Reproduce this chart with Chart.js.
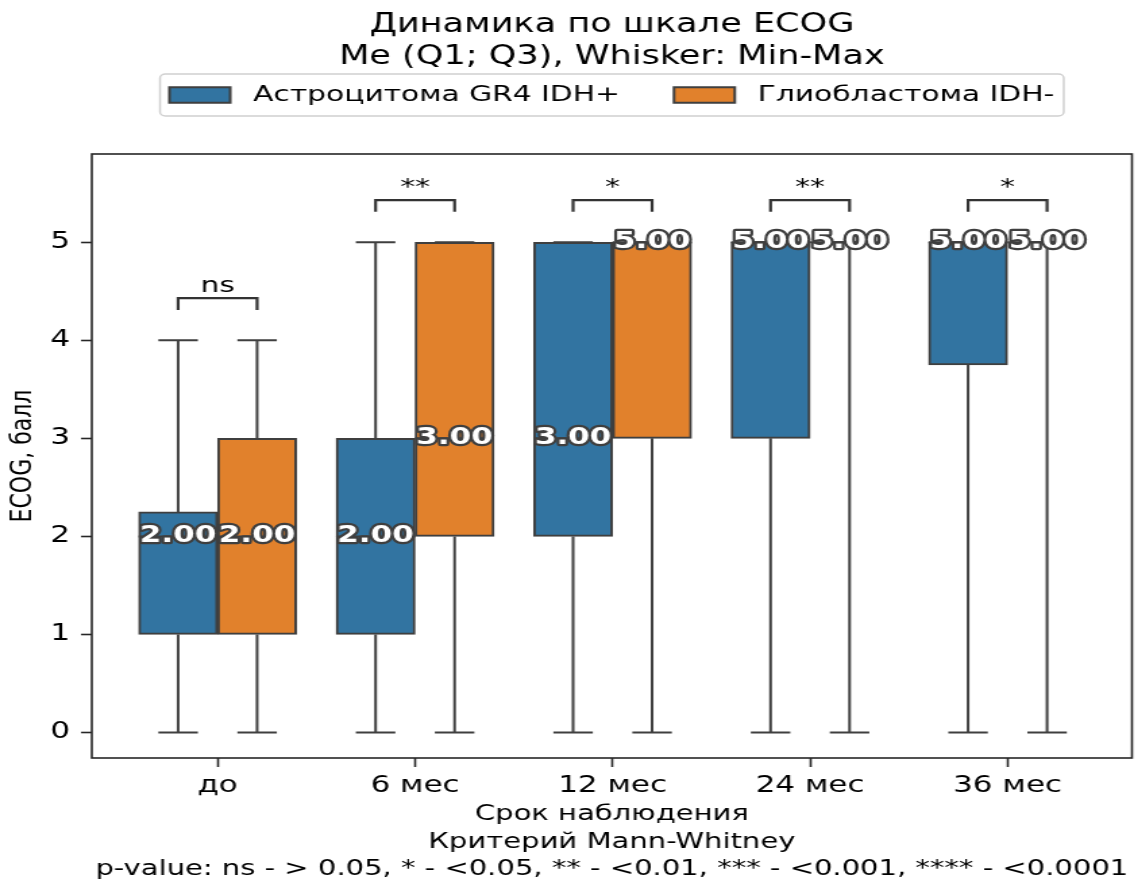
<!DOCTYPE html>
<html lang="ru">
<head>
<meta charset="utf-8">
<title>Динамика по шкале ECOG</title>
<script src="https://cdn.jsdelivr.net/npm/chart.js@4.4.1/dist/chart.umd.min.js"></script>
<style>
  html, body { margin: 0; padding: 0; background: #fff; overflow: hidden; }
  /* figure is drawn narrow and widened as a whole */
  #wrap { width: 843px; height: 880px; transform: scaleX(1.35); transform-origin: 0 0; }
</style>
</head>
<body>
<div id="wrap"><canvas id="ecogChart"></canvas></div>
<script>
const categories = ["до", "6 мес", "12 мес", "24 мес", "36 мес"];
const yTicks = [0, 1, 2, 3, 4, 5];

// Астроцитома GR4 IDH+
const astroMin = [0, 0, 0, 0, 0];
const astroQ1 = [1, 1, 2, 3, 3.75];
const astroMed = [2, 2, 3, 5, 5];
const astroQ3 = [2.25, 3, 5, 5, 5];
const astroMax = [4, 5, 5, 5, 5];

// Глиобластома IDH-
const glioMin = [0, 0, 0, 0, 0];
const glioQ1 = [1, 2, 3, 5, 5];
const glioMed = [2, 3, 5, 5, 5];
const glioQ3 = [3, 5, 5, 5, 5];
const glioMax = [4, 5, 5, 5, 5];

// Mann-Whitney result per time point
const sigLabels = ["ns", "**", "*", "**", "*"];

const FONT = '"DejaVu Sans", sans-serif';
const EDGE = "#3f3f3f";
const BOX_W = 0.4;

const series = [
	{ label: "Астроцитома GR4 IDH+", color: "#3274a1", shift: -0.2,
	  min: astroMin, q1: astroQ1, med: astroMed, q3: astroQ3, max: astroMax },
	{ label: "Глиобластома IDH-", color: "#e1812c", shift: 0.2,
	  min: glioMin, q1: glioQ1, med: glioMed, q3: glioQ3, max: glioMax },
];

const boxExtras = {
	id: "boxExtras",
	beforeDatasetsDraw(chart) {
		// whiskers go under the boxes
		const { ctx, scales: { x, y } } = chart;
		ctx.save();
		ctx.strokeStyle = EDGE;
		ctx.lineWidth = 2;
		series.forEach((s) => {
			categories.forEach((c, i) => {
				const pos = i + s.shift;
				const px = x.getPixelForValue(pos);
				const cl = x.getPixelForValue(pos - BOX_W / 4);
				const cr = x.getPixelForValue(pos + BOX_W / 4);
				const pMin = y.getPixelForValue(s.min[i]);
				const pMax = y.getPixelForValue(s.max[i]);
				ctx.beginPath();
				ctx.moveTo(px, pMin); ctx.lineTo(px, y.getPixelForValue(s.q1[i]));
				ctx.moveTo(px, y.getPixelForValue(s.q3[i])); ctx.lineTo(px, pMax);
				ctx.moveTo(cl, pMin); ctx.lineTo(cr, pMin);
				ctx.moveTo(cl, pMax); ctx.lineTo(cr, pMax);
				ctx.stroke();
			});
		});
		ctx.restore();
	},
	afterDatasetsDraw(chart) {
		const { ctx, chartArea: a, scales: { x, y } } = chart;
		ctx.save();

		// medians with value labels
		series.forEach((s) => {
			categories.forEach((c, i) => {
				const pos = i + s.shift;
				const py = y.getPixelForValue(s.med[i]);
				ctx.strokeStyle = EDGE;
				ctx.lineWidth = 2;
				ctx.beginPath();
				ctx.moveTo(x.getPixelForValue(pos - BOX_W / 2), py);
				ctx.lineTo(x.getPixelForValue(pos + BOX_W / 2), py);
				ctx.stroke();
			});
		});
		ctx.font = "bold 23px " + FONT;
		ctx.textAlign = "center";
		ctx.textBaseline = "middle";
		ctx.lineJoin = "round";
		series.forEach((s) => {
			categories.forEach((c, i) => {
				const px = x.getPixelForValue(i + s.shift);
				const py = y.getPixelForValue(s.med[i]);
				const txt = s.med[i].toFixed(2);
				ctx.strokeStyle = EDGE;
				ctx.lineWidth = 4.5;
				ctx.strokeText(txt, px, py);
				ctx.fillStyle = "#fff";
				ctx.fillText(txt, px, py);
			});
		});

		// significance brackets
		ctx.strokeStyle = "#333";
		ctx.lineWidth = 2.2;
		ctx.lineJoin = "miter";
		ctx.fillStyle = "#000";
		ctx.font = "22px " + FONT;
		ctx.textBaseline = "alphabetic";
		categories.forEach((c, i) => {
			const top = Math.max(astroMax[i], glioMax[i]);
			const x1 = x.getPixelForValue(i + series[0].shift);
			const x2 = x.getPixelForValue(i + series[1].shift);
			const yLine = y.getPixelForValue(top + 0.43);
			const yLeg = y.getPixelForValue(top + 0.31);
			ctx.beginPath();
			ctx.moveTo(x1, yLeg); ctx.lineTo(x1, yLine);
			ctx.lineTo(x2, yLine); ctx.lineTo(x2, yLeg);
			ctx.stroke();
			ctx.fillText(sigLabels[i], (x1 + x2) / 2, yLine - 6);
		});

		// axes frame
		ctx.strokeStyle = "#262626";
		ctx.lineWidth = 1.6;
		ctx.strokeRect(a.left, a.top, a.right - a.left, a.bottom - a.top);
		ctx.restore();
	},
	afterDraw(chart) {
		const { ctx, chartArea: a } = chart;
		const cx = (a.left + a.right) / 2;
		ctx.save();

		// title
		ctx.fillStyle = "#000";
		ctx.textAlign = "center";
		ctx.textBaseline = "middle";
		ctx.font = "26px " + FONT;
		ctx.fillText("Динамика по шкале ECOG", cx, 25.5);
		ctx.fillText("Me (Q1; Q3), Whisker: Min-Max", cx, 57);

		// legend
		ctx.font = "22px " + FONT;
		const sw = 45, sh = 15.5, gap = 17, itemGap = 40, pad = 7;
		const widths = series.map((s) => ctx.measureText(s.label).width);
		const total = pad * 2 + widths.reduce((t, w) => t + sw + gap + w, 0) + itemGap;
		const left = cx - total / 2;
		const fTop = 74, fH = 42, midY = fTop + fH / 2;
		ctx.beginPath();
		ctx.roundRect(left, fTop, total, fH, 4);
		ctx.fillStyle = "rgba(255,255,255,0.8)";
		ctx.fill();
		ctx.strokeStyle = "#d0d0d0";
		ctx.lineWidth = 1.5;
		ctx.stroke();
		let cur = left + pad;
		ctx.textAlign = "left";
		series.forEach((s, k) => {
			ctx.fillStyle = s.color;
			ctx.fillRect(cur, midY - sh / 2, sw, sh);
			ctx.strokeStyle = EDGE;
			ctx.lineWidth = 2;
			ctx.strokeRect(cur, midY - sh / 2, sw, sh);
			ctx.fillStyle = "#000";
			ctx.fillText(s.label, cur + sw + gap, midY);
			cur += sw + gap + widths[k] + itemGap;
		});
		ctx.restore();
	},
};

const ctx = document.getElementById("ecogChart").getContext("2d");

const chart = new Chart(ctx, {
	type: "bar",
	data: {
		datasets: series.map((s) => ({
			label: s.label,
			data: categories.map((c, i) => ({ x: i + s.shift, y: [s.q1[i], s.q3[i]] })),
			backgroundColor: s.color,
			borderColor: EDGE,
			borderWidth: 2,
			borderSkipped: false,
			grouped: false,
			barPercentage: 1,
			categoryPercentage: 1,
		})),
	},
	options: {
		responsive: true,
		maintainAspectRatio: false,
		animation: false,
		layout: { padding: { top: 154, right: 4.5, bottom: 0, left: 0 } },
		plugins: {
			legend: { display: false },
			title: { display: false },
			tooltip: { enabled: false },
		},
		scales: {
			x: {
				type: "linear",
				offset: false,
				min: -0.637,
				max: 4.63,
				afterBuildTicks: (scale) => { scale.ticks = categories.map((c, i) => ({ value: i })); },
				afterFit: (scale) => { scale.height = 122; },
				ticks: {
					callback: (v) => categories[v],
					color: "#000",
					font: { family: FONT, size: 23 },
					padding: 5,
					maxRotation: 0,
					autoSkip: false,
				},
				grid: { offset: false, drawOnChartArea: false, tickLength: 9, tickColor: "#262626", tickWidth: 1.6 },
				border: { display: false },
				title: {
					display: true,
					text: ["Срок наблюдения", "Критерий Mann-Whitney",
						"p-value: ns - > 0.05, * - <0.05, ** - <0.01, *** - <0.001, **** - <0.0001"],
					color: "#000",
					font: { family: FONT, size: 21.5, lineHeight: 1.27 },
					padding: { top: 0, bottom: -3 },
				},
			},
			y: {
				min: -0.26,
				max: 5.9,
				afterBuildTicks: (scale) => { scale.ticks = yTicks.map((v) => ({ value: v })); },
				afterFit: (scale) => { scale.width = 68; },
				ticks: {
					color: "#000",
					font: { family: FONT, size: 23 },
					padding: 8,
				},
				grid: { drawOnChartArea: false, tickLength: 8, tickColor: "#262626", tickWidth: 1.6 },
				border: { display: false },
				title: {
					display: true,
					text: "ECOG, балл",
					color: "#000",
					font: { family: FONT, size: 22, lineHeight: 1.2 },
					padding: { top: 4, bottom: 0 },
				},
			},
		},
	},
	plugins: [boxExtras],
});
</script>
</body>
</html>
